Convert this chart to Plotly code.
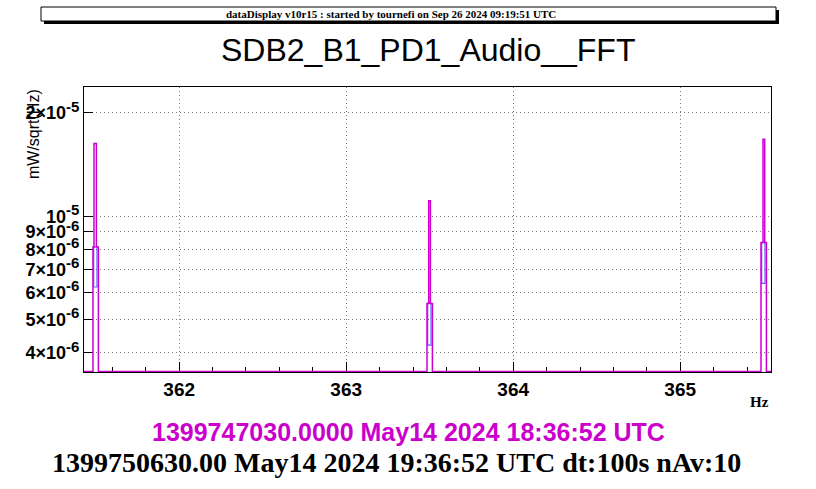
import math
import plotly.graph_objects as go

# ---------------- data ----------------
# reference spectrum (magenta), step histogram: level applies from edge i to edge i+1
ref_edges_hz = [361.430, 361.4838, 361.4898, 361.5042, 361.5162,
                363.4838, 363.4940, 363.5042, 363.5162,
                365.4838, 365.4958, 365.5060, 365.5162, 365.5437]
ref_level = [3.53e-6, 8.14e-6, 1.63e-5, 8.14e-6, 3.53e-6,
             5.57e-6, 1.11e-5, 5.57e-6, 3.53e-6,
             8.38e-6, 1.677e-5, 8.38e-6, 3.53e-6, 3.53e-6]

# current spectrum (blue) min/max boxes at the lines
cur_lo_hz = [361.4880, 363.4880, 365.4880]
cur_hi_hz = [361.5078, 363.5078, 365.5078]
cur_min = [6.22e-6, 4.21e-6, 6.37e-6]
cur_max = [8.14e-6, 5.57e-6, 8.38e-6]

x_range = [361.430, 365.5437]
y_range = [3.516e-6, 2.381e-5]

ytick_vals = [4e-6, 5e-6, 6e-6, 7e-6, 8e-6, 9e-6, 1e-5, 2e-5]
ytick_mant = ["4×", "5×", "6×", "7×", "8×", "9×", "", "2×"]
ytick_exp = ["-6", "-6", "-6", "-6", "-6", "-6", "-5", "-5"]

title_text = "SDB2_B1_PD1_Audio__FFT"
header_text = "dataDisplay v10r15 : started by tournefi on Sep 26 2024 09:19:51 UTC"
ref_time_text = "1399747030.0000 May14 2024 18:36:52 UTC"
cur_time_text = "1399750630.00 May14 2024 19:36:52 UTC dt:100s nAv:10"
x_title = "Hz"
y_title = "mW/sqrt(Hz)"

MAGENTA = "#cc00cc"
BLUE = "#6464ff"

# ---------------- layout helpers (pixel -> paper) ----------------
W, H = 816, 489
L, R, T, B = 84, 771, 87, 372


def px(x):
    return (x - L) / (R - L)


def py(y):
    return (B - y) / (B - T)


ytick_text = [f"{m}10<sup><span style='font-size:15px'>{e}</span></sup>"
              for m, e in zip(ytick_mant, ytick_exp)]

fig = go.Figure()

fig.add_trace(go.Bar(
    x=[(a + b) / 2 for a, b in zip(cur_lo_hz, cur_hi_hz)],
    width=[b - a for a, b in zip(cur_lo_hz, cur_hi_hz)],
    base=cur_min,
    y=[hi - lo for lo, hi in zip(cur_min, cur_max)],
    marker=dict(color="rgba(0,0,0,0)", line=dict(color=BLUE, width=1.2)),
    showlegend=False, hoverinfo="skip",
))

fig.add_trace(go.Scatter(
    x=ref_edges_hz, y=ref_level, mode="lines",
    line=dict(color=MAGENTA, width=1.5, shape="hv"),
    showlegend=False, hoverinfo="skip",
))

fig.update_layout(
    width=W, height=H,
    margin=dict(l=L, r=W - R, t=T, b=H - B, pad=0),
    paper_bgcolor="white", plot_bgcolor="white",
    font=dict(family="Liberation Sans", color="black"),
    xaxis=dict(
        range=x_range, tick0=362, dtick=1,
        ticks="inside", ticklen=10, tickwidth=1, tickcolor="black",
        showline=True, linecolor="black", linewidth=1, mirror=True,
        showgrid=True, gridcolor="#777777", griddash="1px,3px", gridwidth=1,
        zeroline=False, layer="below traces",
        tickfont=dict(family="Liberation Sans", size=19, weight="bold", color="black"),
        minor=dict(dtick=0.2, ticks="inside", ticklen=5, tickcolor="black", showgrid=False),
    ),
    yaxis=dict(
        type="log", range=[math.log10(y_range[0]), math.log10(y_range[1])],
        tickvals=ytick_vals, ticktext=ytick_text,
        ticks="inside", ticklen=9, tickwidth=1, tickcolor="black",
        showline=True, linecolor="black", linewidth=1, mirror=True,
        showgrid=True, gridcolor="#777777", griddash="1px,3px", gridwidth=1,
        zeroline=False, layer="below traces",
        tickfont=dict(family="Liberation Sans", size=18, weight="bold", color="black"),
    ),
    yaxis2=dict(
        type="log", range=[math.log10(y_range[0]), math.log10(y_range[1])],
        overlaying="y", side="left", tickvals=[1e-5], ticks="inside", ticklen=16,
        tickcolor="black", showticklabels=False, showgrid=False, showline=False,
        zeroline=False,
    ),
    barmode="overlay",
)

shapes = [
    dict(type="rect", xref="paper", yref="paper",
         x0=px(44), x1=px(779), y0=py(24), y1=py(10),
         fillcolor="black", line=dict(width=0), layer="above"),
    dict(type="rect", xref="paper", yref="paper",
         x0=px(41), x1=px(776), y0=py(21), y1=py(7),
         fillcolor="white", line=dict(color="black", width=1), layer="above"),
]
fig.update_layout(shapes=shapes)

ann = [
    dict(text=header_text, x=px(391), y=py(14), xanchor="center", yanchor="middle",
         font=dict(family="Liberation Serif", size=11, weight="bold", color="black")),
    dict(text=title_text, x=px(428), y=py(50), xanchor="center", yanchor="middle",
         font=dict(family="Liberation Sans", size=32, color="black")),
    dict(text=y_title, x=px(33), y=py(87), xanchor="center", yanchor="top", textangle=-90,
         font=dict(family="Liberation Sans", size=16, color="black")),
    dict(text=x_title, x=px(771), y=py(402), xanchor="right", yanchor="middle",
         font=dict(family="Liberation Serif", size=15, weight="bold", color="black")),
    dict(text=ref_time_text, x=px(408), y=py(432), xanchor="center", yanchor="middle",
         font=dict(family="Liberation Sans", size=25, weight="bold", color=MAGENTA)),
    dict(text=cur_time_text, x=px(396), y=py(462), xanchor="center", yanchor="middle",
         font=dict(family="Liberation Serif", size=28, weight="bold", color="black")),
]
for a in ann:
    a.update(xref="paper", yref="paper", showarrow=False)
fig.update_layout(annotations=ann)

fig.write_html("out.html", config={"displayModeBar": False},
               post_script="document.body.style.margin='0';")
